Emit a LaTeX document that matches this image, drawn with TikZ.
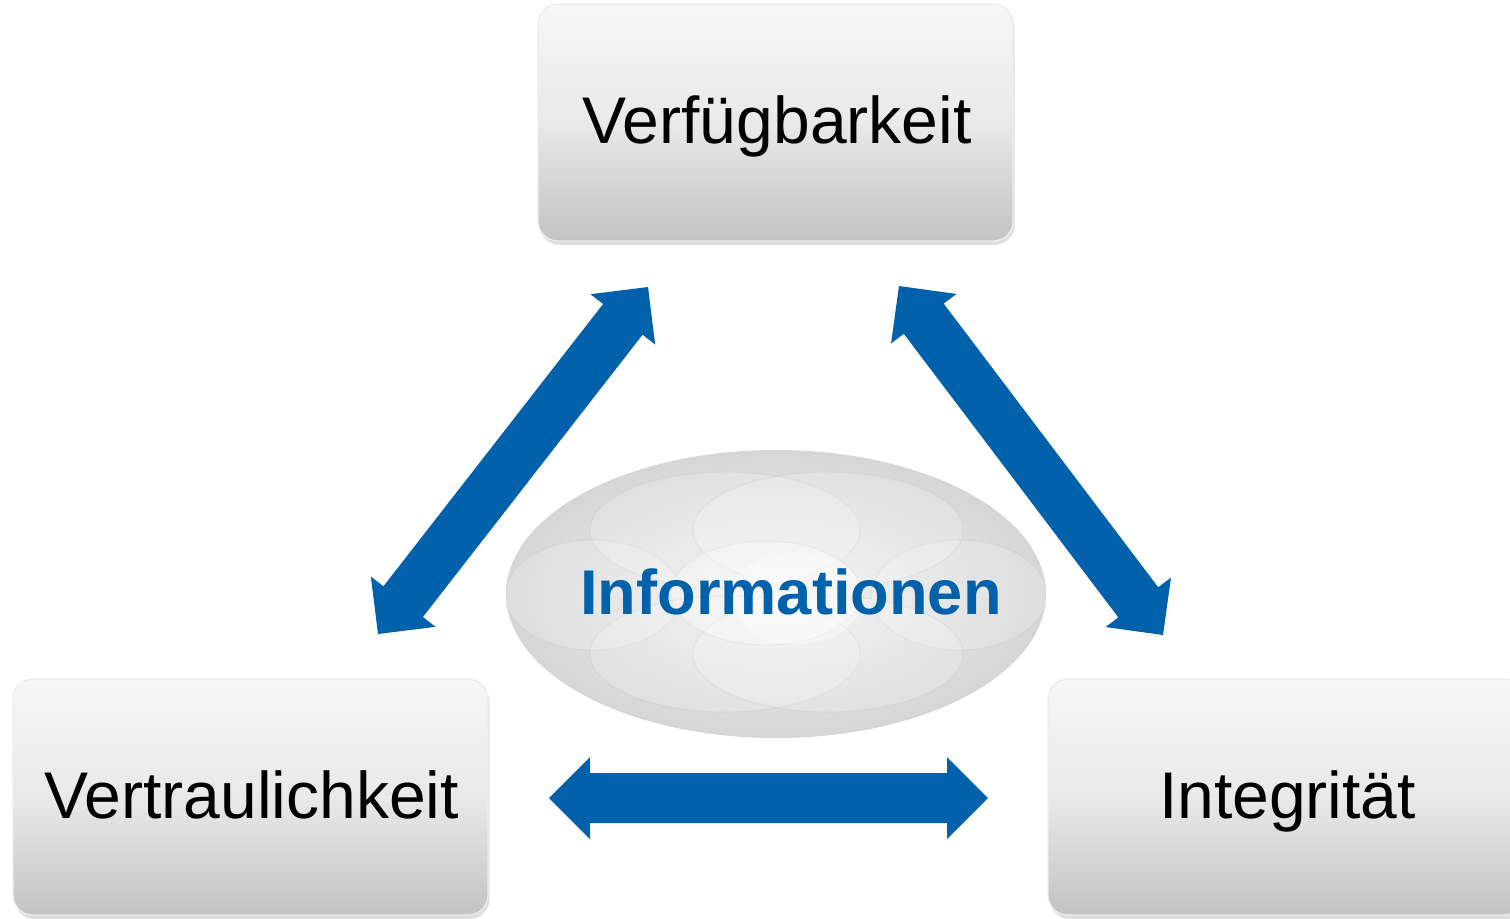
\documentclass[tikz,border=0pt]{standalone}
\usepackage{fontspec}
\setmainfont{Liberation Sans}
\usetikzlibrary{calc,shadows}
\definecolor{arrowblue}{RGB}{1,97,171}
\definecolor{boxtop}{RGB}{247,247,247}
\definecolor{boxmid}{RGB}{233,233,233}
\definecolor{boxbot}{RGB}{195,195,195}
\definecolor{ellin}{RGB}{243,243,243}
\definecolor{ellout}{RGB}{214,214,214}
\newcommand{\dblarr}[2]{%
  \fill[arrowblue] (#1)
    -- ($(#1)!20.5pt!(#2)!20.5pt!90:(#2)$)
    -- ($(#1)!20.5pt!(#2)!12.5pt!90:(#2)$)
    -- ($(#2)!20.5pt!(#1)!12.5pt!-90:(#1)$)
    -- ($(#2)!20.5pt!(#1)!20.5pt!-90:(#1)$)
    -- (#2)
    -- ($(#2)!20.5pt!(#1)!20.5pt!90:(#1)$)
    -- ($(#2)!20.5pt!(#1)!12.5pt!90:(#1)$)
    -- ($(#1)!20.5pt!(#2)!12.5pt!-90:(#2)$)
    -- ($(#1)!20.5pt!(#2)!20.5pt!-90:(#2)$)
    -- cycle;}
\tikzset{
  infobox/.style={rounded corners=10pt, draw=white!93!black, line width=0.6pt,
    top color=boxtop, bottom color=boxbot, middle color=boxmid,
    drop shadow={shadow xshift=0.8pt, shadow yshift=-2pt, opacity=0.25}},
  boxlabel/.style={anchor=base, inner sep=0pt, font=\fontsize{33pt}{36pt}\selectfont, text=black},
  petal/.style={fill=white, fill opacity=0.2, draw=gray!55, draw opacity=0.18, line width=0.6pt},
}
\begin{document}
\begin{tikzpicture}[x=0.5pt,y=-0.5pt]
\useasboundingbox (0,0) rectangle (1510,918);
\clip (0,0) rectangle (1510,918);
% boxes
\path[infobox] (538,4) rectangle (1013,241);
\path[infobox] (13,679) rectangle (488,915);
\path[infobox] (1048,679) rectangle (1524,915);
\node[boxlabel] (verf) at (777,143) {Verfügbarkeit};
\node[boxlabel] (vert) at (251.5,818) {Vertraulichkeit};
\node[boxlabel] (integ) at (1287.5,818) {Integrität};
% central ellipse
\path[inner color=ellin, outer color=ellout] (776,594) ellipse [x radius=270, y radius=144];
\begin{scope}
\clip (776,594) ellipse [x radius=270, y radius=144];
\path[petal] (593,595) ellipse [x radius=88, y radius=55];
\path[petal] (959,595) ellipse [x radius=88, y radius=55];
\path[petal] (725,530) ellipse [x radius=135, y radius=58];
\path[petal] (828,530) ellipse [x radius=135, y radius=58];
\path[petal] (725,654) ellipse [x radius=135, y radius=58];
\path[petal] (828,654) ellipse [x radius=135, y radius=58];
\path[fill=white, fill opacity=0.3, draw=gray!50, draw opacity=0.2] (766,593) ellipse [x radius=95, y radius=52];
\path[fill=white, fill opacity=0.35] (797,598) ellipse [x radius=66, y radius=46];
\end{scope}
\node[anchor=base, inner sep=0pt, text=arrowblue, font=\bfseries\fontsize{31.6pt}{34pt}\selectfont] (info) at (791,614) {Informationen};
% arrows
\coordinate (l1) at (378,634);
\coordinate (l2) at (648,287);
\coordinate (r1) at (899,286);
\coordinate (r2) at (1163,635);
\coordinate (h1) at (549,798);
\coordinate (h2) at (988,798);
\dblarr{l1}{l2}
\dblarr{r1}{r2}
\dblarr{h1}{h2}
\end{tikzpicture}
\end{document}
